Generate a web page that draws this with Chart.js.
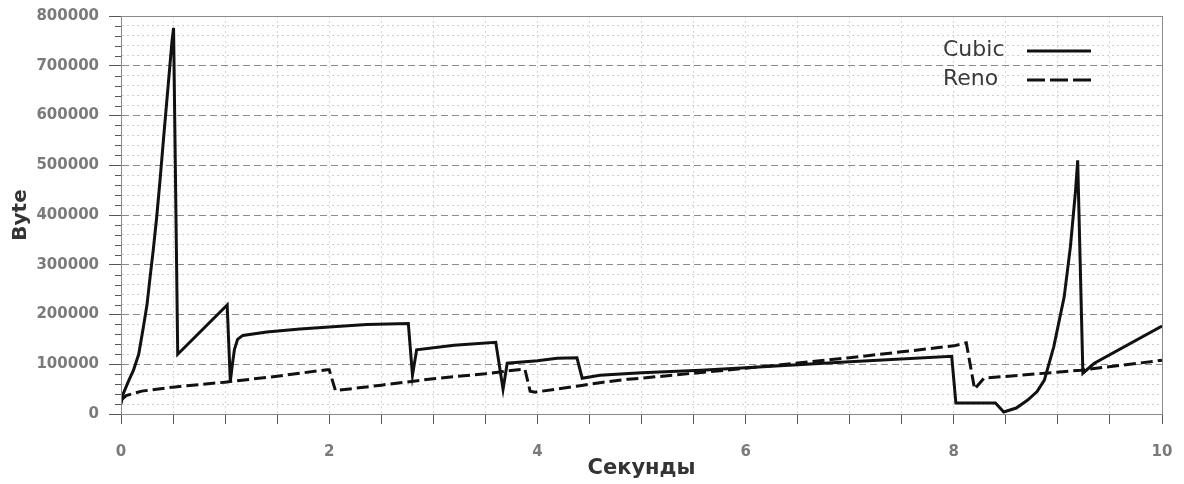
<!DOCTYPE html>
<html>
<head>
<meta charset="utf-8">
<script src="https://cdn.jsdelivr.net/npm/chart.js@4.4.1/dist/chart.umd.min.js"></script>
<style>
  html, body { margin: 0; padding: 0; background: #fff; }
  #wrap { width: 1184px; height: 484px; position: relative; }
</style>
</head>
<body>
<div id="wrap"><canvas id="cwnd-chart"></canvas></div>
<script>
// Congestion window size over time
const seriesNames = ["Cubic", "Reno"];

const cubicTime = [0, 0.02, 0.07, 0.12, 0.17, 0.215, 0.25, 0.28, 0.31, 0.343, 0.375, 0.41, 0.455, 0.49, 0.505,
  0.545, 1.02, 1.05, 1.07, 1.09, 1.12, 1.17, 1.4, 1.72, 2.0, 2.36, 2.76, 2.8, 2.84, 3.2, 3.6, 3.67, 3.71,
  4.0, 4.19, 4.38, 4.43, 4.6, 5.0, 5.57, 6.0, 7.0, 7.98, 8.02, 8.4, 8.48, 8.6, 8.71, 8.8, 8.87, 8.96,
  9.06, 9.12, 9.17, 9.19, 9.24, 9.35, 10];
const cubicBytes = [20000, 40000, 65000, 88000, 120000, 175000, 220000, 276000, 330000, 396000, 470000, 557000, 665000, 750000, 776000,
  120000, 219000, 65000, 100000, 130000, 150000, 158000, 165000, 171000, 175000, 180000, 182000, 78000, 129000, 138000, 144000, 50000, 102000,
  107000, 112000, 113000, 72000, 78000, 83000, 88000, 93000, 105000, 116000, 22000, 22000, 4000, 12000, 28000, 45000, 68000, 135000,
  235000, 336000, 450000, 510000, 82000, 102000, 177000];

const renoTime = [0, 0.05, 0.2, 0.5, 1.0, 1.5, 1.98, 2.0, 2.06, 2.5, 3.0, 3.5, 3.77, 3.88, 3.93, 3.98,
  4.41, 4.6, 4.87, 5.0, 6.0, 7.0, 8.0, 8.12, 8.2, 8.29, 9.22, 10];
const renoBytes = [28000, 37000, 46000, 54000, 64000, 76000, 89000, 89000, 47000, 58000, 71000, 81000, 88000, 90000, 46000, 44000,
  57000, 63000, 70000, 72000, 92000, 113000, 137000, 143000, 50000, 72000, 88000, 108000];

const xTickLabels = [0, 2, 4, 6, 8, 10];
const yMajorStep = 100000;

const toPoints = (xs, ys) => xs.map((x, i) => ({ x: x, y: ys[i] }));

// frame around the plot area + short minor ticks on the left axis
const framePlugin = {
  id: "frame",
  afterDraw(chart) {
    const { ctx, chartArea: a, scales } = chart;
    ctx.save();
    ctx.strokeStyle = "#8a8a8a";
    ctx.lineWidth = 1;
    ctx.strokeRect(a.left + 0.5, a.top + 0.5, a.right - a.left, a.bottom - a.top);
    ctx.strokeStyle = "#555";
    scales.y.ticks.forEach(t => {
      if (t.value % yMajorStep === 0) return;
      const y = Math.round(scales.y.getPixelForValue(t.value)) + 0.5;
      ctx.beginPath();
      ctx.moveTo(a.left - 6, y);
      ctx.lineTo(a.left, y);
      ctx.stroke();
    });
    ctx.restore();
  }
};

// legend inside the plot, text first then line sample
const legendPlugin = {
  id: "innerLegend",
  afterDraw(chart) {
    const { ctx } = chart;
    ctx.save();
    ctx.font = "22px 'DejaVu Sans'";
    ctx.fillStyle = "#3a3a3a";
    ctx.textBaseline = "middle";
    chart.data.datasets.forEach((ds, i) => {
      const y = 50 + i * 29;
      ctx.fillText(ds.label, 943, y);
      ctx.strokeStyle = "#111";
      ctx.lineWidth = 3;
      ctx.setLineDash(ds.borderDash ? [18, 5] : []);
      ctx.beginPath();
      ctx.moveTo(1027, y + 1);
      ctx.lineTo(1091, y + 1);
      ctx.stroke();
    });
    ctx.restore();
  }
};

const tickFont = { family: "'DejaVu Sans'", size: 15, weight: "bold" };

new Chart(document.getElementById("cwnd-chart"), {
  type: "line",
  data: {
    datasets: [
      {
        label: seriesNames[0],
        data: toPoints(cubicTime, cubicBytes),
        borderColor: "#111",
        borderWidth: 3,
        pointRadius: 0,
        tension: 0,
        fill: false
      },
      {
        label: seriesNames[1],
        data: toPoints(renoTime, renoBytes),
        borderColor: "#111",
        borderWidth: 3,
        borderDash: [12, 5],
        pointRadius: 0,
        tension: 0,
        fill: false
      }
    ]
  },
  options: {
    responsive: true,
    maintainAspectRatio: false,
    animation: false,
    layout: { padding: { top: 16, right: 22, left: 0, bottom: 0 } },
    plugins: {
      legend: { display: false },
      tooltip: { enabled: false }
    },
    scales: {
      x: {
        type: "linear",
        min: 0,
        max: 10,
        // fixed height, and drop the label overhang so the plot reaches the right edge
        afterFit: s => { s.height = 70; s.paddingRight = 0; s.paddingLeft = 0; },
        ticks: {
          stepSize: 0.5,
          autoSkip: false,
          maxRotation: 0,
          padding: 19,
          color: "#7a7a7a",
          font: tickFont,
          callback: v => xTickLabels.includes(v) ? String(v) : ""
        },
        grid: {
          color: "#d6d6d6",
          tickColor: "#555",
          tickLength: 10
        },
        border: { color: "#6a6a6a", dash: [2, 3] },
        title: {
          display: true,
          text: "Секунды",
          color: "#333",
          font: { family: "'DejaVu Sans'", size: 21, weight: "bold" },
          padding: { top: 0, bottom: 3 }
        }
      },
      y: {
        min: 0,
        max: 800000,
        afterFit: s => { s.width = 121; s.paddingTop = 0; s.paddingBottom = 0; },
        ticks: {
          stepSize: 20000,
          autoSkip: false,
          padding: 10,
          color: "#7a7a7a",
          font: tickFont,
          callback: v => v % yMajorStep === 0 ? String(v) : ""
        },
        grid: {
          color: ctx => ctx.tick && ctx.tick.value % yMajorStep === 0 ? "#8c8c8c" : "#cfcfcf",
          tickColor: ctx => ctx.tick && ctx.tick.value % yMajorStep === 0 ? "#555" : "rgba(0,0,0,0)",
          tickLength: 12
        },
        border: {
          color: "#6a6a6a",
          dash: ctx => ctx.tick && ctx.tick.value % yMajorStep === 0 ? [7, 4] : [2, 3]
        },
        title: {
          display: true,
          text: "Byte",
          color: "#333",
          font: { family: "'DejaVu Sans'", size: 20, weight: "bold" },
          padding: { top: 9, bottom: 0 }
        }
      }
    }
  },
  plugins: [framePlugin, legendPlugin]
});
</script>
</body>
</html>
